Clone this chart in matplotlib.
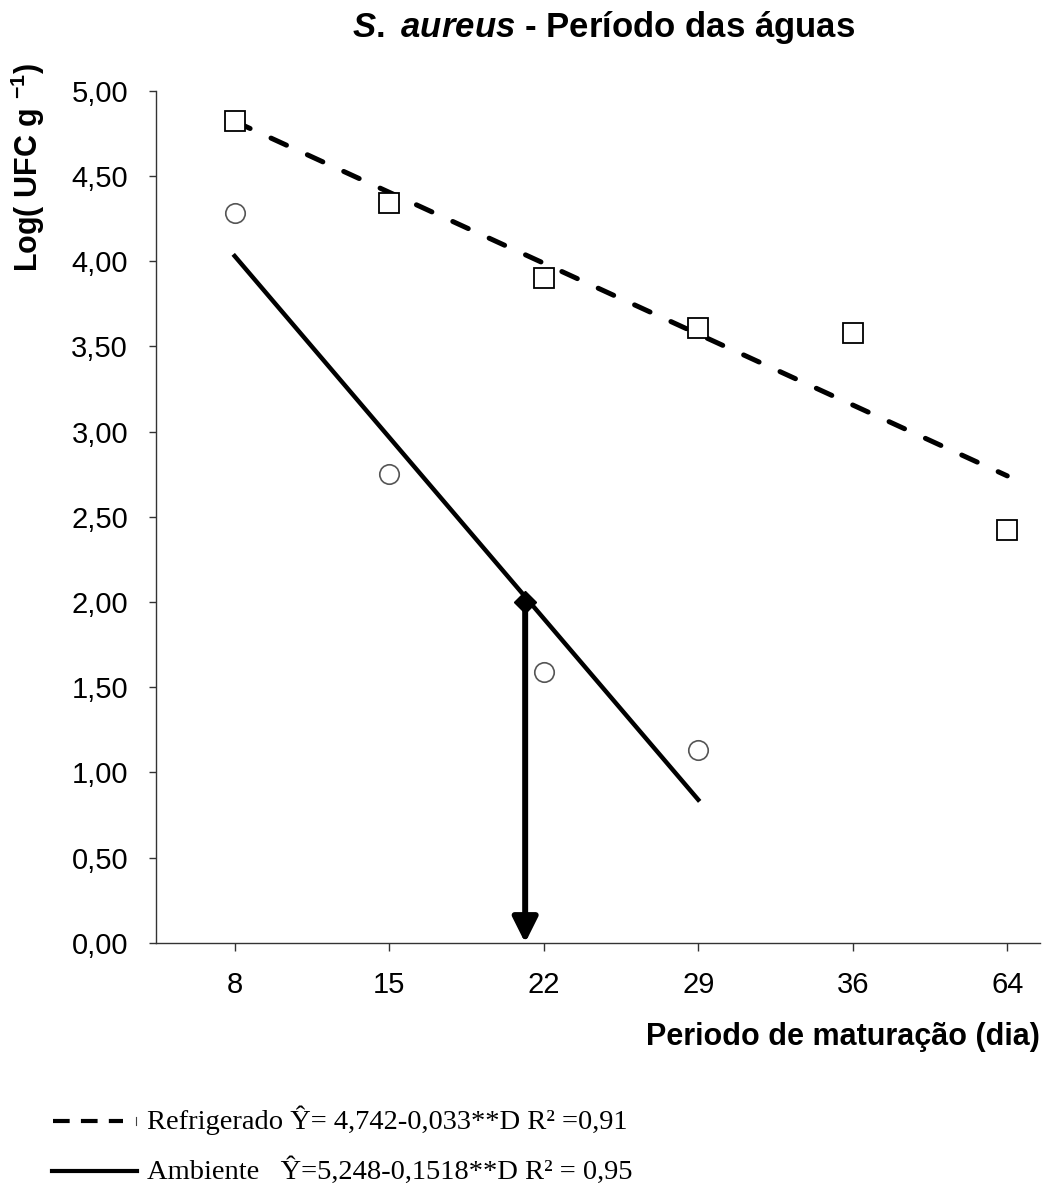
import numpy as np
import matplotlib.pyplot as plt
from matplotlib.lines import Line2D

plt.rcParams['font.family'] = ['Liberation Sans', 'DejaVu Sans']
plt.rcParams['mathtext.fontset'] = 'custom'
plt.rcParams['mathtext.rm'] = 'Liberation Sans:bold'
plt.rcParams['mathtext.it'] = 'Liberation Sans:bold:italic'
plt.rcParams['mathtext.bf'] = 'Liberation Sans:bold'

dias = ["8", "15", "22", "29", "36", "64"]
refrigerado = [4.82, 4.34, 3.90, 3.61, 3.58, 2.42]
ambiente = [4.28, 2.75, 1.59, 1.13]

# trend lines as drawn (start/end values)
refrig_fit = [4.82, 2.74]
amb_fit = [4.03, 0.84]

# arrow marking Log = 2
arrow_x = 1.88
arrow_top = 2.00

yticks = [0, 0.5, 1, 1.5, 2, 2.5, 3, 3.5, 4, 4.5, 5]

fig = plt.figure(figsize=(10.46, 11.86), dpi=100)
ax = fig.add_axes([0.149, 0.205, 0.845, 0.7185])

x = np.arange(len(dias))

ax.plot([0, len(dias) - 1], refrig_fit, color='black', lw=3.6,
        linestyle=(0, (3.4, 4.6)), dash_capstyle='round', zorder=2)
ax.plot([0, len(ambiente) - 1], amb_fit, color='black', lw=3.2, zorder=2)

ax.plot(x, refrigerado, 's', ms=15, mfc='white', mec='black', mew=1.3, zorder=3)
ax.plot(x[:len(ambiente)], ambiente, 'o', ms=14, mfc='white', mec='#555555', mew=1.2, zorder=3)

ax.annotate('', xy=(arrow_x, 0), xytext=(arrow_x, arrow_top),
            arrowprops=dict(arrowstyle='-|>,head_length=0.4,head_width=0.2', lw=4.3,
                            color='black', mutation_scale=38, shrinkA=0, shrinkB=0),
            zorder=4)
ax.plot([arrow_x], [arrow_top], 'D', ms=11, color='black', zorder=5)

ax.set_xlim(-0.51, 5.21)
ax.set_ylim(0, 5)
ax.set_xticks(x)
ax.set_xticklabels(dias)
ax.set_yticks(yticks)
ax.set_yticklabels([f"{v:.2f}".replace('.', ',') for v in yticks])
ax.tick_params(axis='y', direction='out', length=5, width=1, pad=15, labelsize=21,
               color='#333333')
ax.tick_params(axis='x', direction='out', length=6, width=1, pad=14, labelsize=21,
               color='#333333')

for s in ['top', 'right']:
    ax.spines[s].set_visible(False)
for s in ['left', 'bottom']:
    ax.spines[s].set_color('#333333')
    ax.spines[s].set_linewidth(1)

fig.text(0.577, 0.969, r"$\mathit{S.}$ $\mathit{aureus}$ - Período das águas",
         ha='center', va='baseline', fontsize=25, fontweight='bold')

fig.text(0.027, 0.859, r"Log( UFC g $^{-1}$)", rotation=90, ha='center', va='center',
         fontsize=22, fontweight='bold')
fig.text(0.994, 0.126, "Periodo de maturação (dia)", ha='right', va='center',
         fontsize=22, fontweight='bold')

# legend drawn below the axes
y1, y2 = 0.0548, 0.0127
fig.add_artist(Line2D([0.051, 0.118], [y1, y1], color='black', lw=3.0,
                      linestyle=(0, (4.0, 2.7)), transform=fig.transFigure))
fig.add_artist(Line2D([0.130, 0.130], [y1 - 0.003, y1 + 0.003], color='#444444', lw=0.8,
                      transform=fig.transFigure))
fig.add_artist(Line2D([0.050, 0.131], [y2, y2], color='black', lw=3.0,
                      transform=fig.transFigure))
fig.text(0.141, y1 - 0.007, "Refrigerado Ŷ= 4,742-0,033**D R² =0,91", ha='left',
         va='baseline', fontsize=20.5, family=['Liberation Serif', 'DejaVu Serif'])
fig.text(0.141, y2 - 0.007, "Ambiente   Ŷ=5,248-0,1518**D R² = 0,95", ha='left',
         va='baseline', fontsize=20.5, family=['Liberation Serif', 'DejaVu Serif'])

fig.savefig('out.png', dpi=100)
